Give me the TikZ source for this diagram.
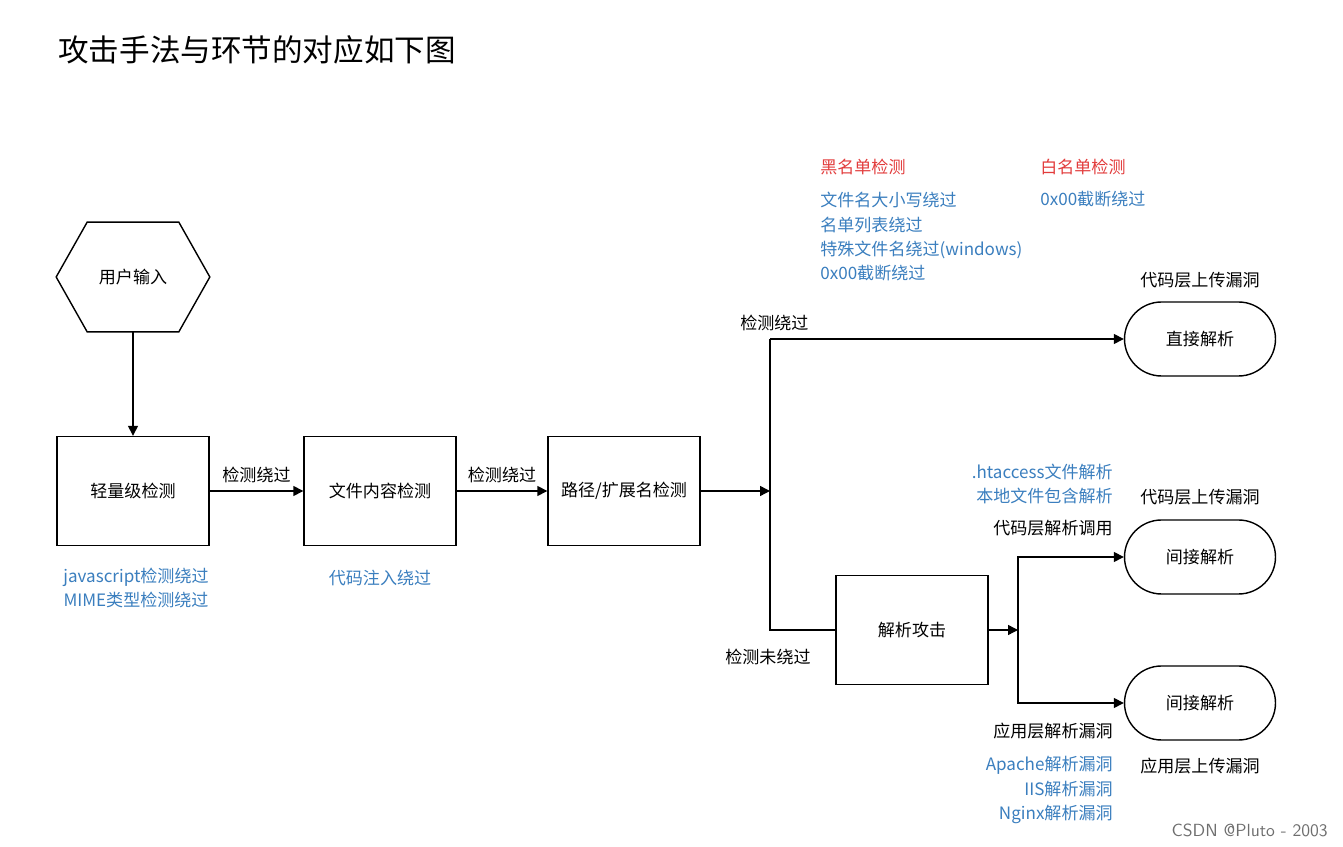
\documentclass[tikz,border=0pt]{standalone}
\usepackage{fontspec}
\setmainfont{Noto Sans CJK SC}
\usetikzlibrary{arrows.meta,shapes.misc,calc,positioning}
\definecolor{tipblue}{RGB}{58,126,190}
\definecolor{tipred}{RGB}{226,60,60}
\definecolor{markgray}{RGB}{110,110,110}
\begin{document}
\begin{tikzpicture}[x=0.02cm,y=-0.02cm,
  every node/.style={font=\fontsize{9.7}{13.8}\selectfont, inner sep=0pt},
  stepbox/.style={draw, line width=0.8pt, minimum width=3.04cm, minimum height=2.18cm},
  endbox/.style={draw, rounded rectangle, line width=0.8pt, minimum width=3.02cm, minimum height=1.48cm},
  wire/.style={line width=0.8pt},
  flow/.style={wire, -{Triangle[length=2mm,width=2mm]}},
  bypass/.style={text=tipblue},
  listhead/.style={text=tipred}]
\useasboundingbox (0,0) rectangle (1343,847);
\node[anchor=west, font=\fontsize{17.4}{20}\selectfont] (title) at (58,50) {攻击手法与环节的对应如下图};

\node[minimum width=3.06cm, minimum height=2.18cm] (user) at (133,277) {用户输入};
\draw[wire] (user.west) -- ($(user.north west)+(31,0)$) -- ($(user.north east)-(31,0)$)
  -- (user.east) -- ($(user.south east)-(31,0)$) -- ($(user.south west)+(31,0)$) -- cycle;
\node[stepbox] (light) at (133,491) {轻量级检测};
\node[stepbox] (content) at (380,491) {文件内容检测};
\node[stepbox] (path) at (624,491) {路径/扩展名检测};
\coordinate (split) at (770,491);
\coordinate (up) at (770,339);
\coordinate (down) at (770,630);
\node[stepbox] (parse) at (912,630) {解析攻击};
\coordinate (fork) at (1018,630);
\node[endbox] (direct) at (1200,339) {直接解析};
\node[endbox] (indirect) at (1200,557) {间接解析};
\node[endbox] (appindirect) at (1200,703) {间接解析};

\draw[flow] (user) -- (light);
\draw[flow] (light) -- node[above=4pt]{检测绕过} (content);
\draw[flow] (content) -- node[above=4pt]{检测绕过} (path);
\draw[flow] (path) -- (split);
\draw[wire] (up) -- (down) -- (parse);
\draw[flow] (up) -- (direct);
\draw[flow] (parse) -- (fork);
\draw[flow] (fork) |- (indirect);
\draw[flow] (fork) |- (appindirect);

\node[anchor=west] (passed) at (740,323) {检测绕过};
\node (blocked) at (768,657) {检测未绕过};
\node[bypass, align=center] (lightnote) at (136,588) {javascript检测绕过\\MIME类型检测绕过};
\node[bypass] (contentnote) at (380,578) {代码注入绕过};

\node[listhead, anchor=west] (black) at (820,167) {黑名单检测};
\node[bypass, anchor=north west, align=left] (blacknote) at (820,192) {文件名大小写绕过\\名单列表绕过\\特殊文件名绕过(windows)\\0x00截断绕过};
\node[listhead, anchor=west] (white) at (1040,167) {白名单检测};
\node[bypass, anchor=west] (whitenote) at (1040,199) {0x00截断绕过};

\node (codeup) at (1200,280) {代码层上传漏洞};
\node (codeup2) at (1200,497) {代码层上传漏洞};
\node (appup) at (1200,766) {应用层上传漏洞};
\node[bypass, anchor=east, align=right] (codenote) at (1113,484) {.htaccess文件解析\\本地文件包含解析};
\node[anchor=east] (codecall) at (1113,528) {代码层解析调用};
\node[anchor=east] (appbug) at (1113,731) {应用层解析漏洞};
\node[bypass, anchor=east, align=right] (appnote) at (1113,790) {Apache解析漏洞\\IIS解析漏洞\\Nginx解析漏洞};

\node[anchor=east, text=markgray, font=\sffamily\fontsize{10}{12}\selectfont] (mark) at (1328,830) {CSDN @Pluto - 2003};
\end{tikzpicture}
\end{document}
